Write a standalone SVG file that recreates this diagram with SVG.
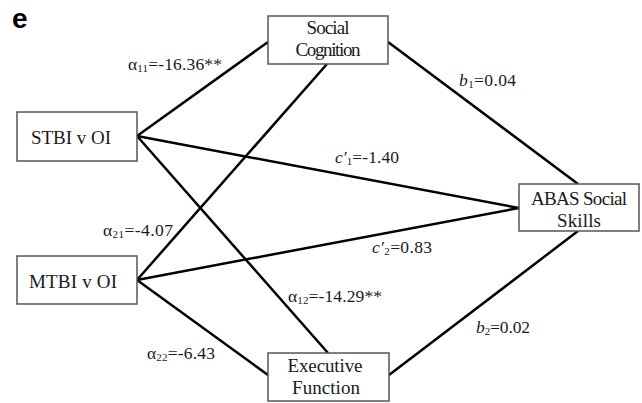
<svg xmlns="http://www.w3.org/2000/svg" width="642" height="403" viewBox="0 0 642 403">
<style>
.box{fill:#fff;stroke:#555;stroke-width:1.5}
.nt{font-family:"Liberation Serif",serif;font-size:19px;fill:#1a1a1a;text-anchor:middle}
.lb{font-family:"Liberation Serif",serif;font-size:17.5px;fill:#1a1a1a}
.sub{font-size:11px}
.edge{stroke:#000;stroke-width:2.5;fill:none}
</style>
<rect width="642" height="403" fill="#fff"/>
<text x="12" y="28" font-family="Liberation Sans, Arial, sans-serif" font-weight="bold" font-size="28" fill="#000">e</text>
<g id="connectors">
<line class="edge" x1="137" y1="136" x2="268" y2="42"/>
<line class="edge" x1="137" y1="136" x2="519" y2="208"/>
<line class="edge" x1="137" y1="136" x2="328" y2="353"/>
<line class="edge" x1="327" y1="64" x2="137" y2="280"/>
<line class="edge" x1="137" y1="280" x2="519" y2="208"/>
<line class="edge" x1="137" y1="280" x2="268" y2="375"/>
<line class="edge" x1="388" y1="42" x2="578" y2="184"/>
<line class="edge" x1="578" y1="231" x2="389" y2="375"/>
</g>
<g id="labels">
<text class="lb" x="128" y="70" textLength="94">α<tspan class="sub" dy="2">11</tspan><tspan dy="-2">=-16.36**</tspan></text>
<text class="lb" x="459" y="86" textLength="57"><tspan font-style="italic">b</tspan><tspan class="sub" dy="2">1</tspan><tspan dy="-2">=0.04</tspan></text>
<text class="lb" x="335" y="163" textLength="64"><tspan font-style="italic">c′</tspan><tspan class="sub" dy="2">1</tspan><tspan dy="-2">=-1.40</tspan></text>
<text class="lb" x="103" y="236" textLength="70">α<tspan class="sub" dy="2">21</tspan><tspan dy="-2">=-4.07</tspan></text>
<text class="lb" x="372" y="253" textLength="60"><tspan font-style="italic">c′</tspan><tspan class="sub" dy="2">2</tspan><tspan dy="-2">=0.83</tspan></text>
<text class="lb" x="288" y="302" textLength="94">α<tspan class="sub" dy="2">12</tspan><tspan dy="-2">=-14.29**</tspan></text>
<text class="lb" x="147" y="359" textLength="68">α<tspan class="sub" dy="2">22</tspan><tspan dy="-2">=-6.43</tspan></text>
<text class="lb" x="476" y="333" textLength="54"><tspan font-style="italic">b</tspan><tspan class="sub" dy="2">2</tspan><tspan dy="-2">=0.02</tspan></text>
</g>
<g id="social-cognition">
<rect class="box" x="268" y="16" width="120" height="48"/>
<text class="nt" x="328" y="34" textLength="43">Social</text>
<text class="nt" x="328" y="56" textLength="65">Cognition</text>
</g>
<g id="stbi">
<rect class="box" x="17" y="112" width="120" height="49"/>
<text class="nt" x="71" y="144" textLength="80">STBI v OI</text>
</g>
<g id="mtbi">
<rect class="box" x="17" y="256" width="120" height="48"/>
<text class="nt" x="73" y="288" textLength="88">MTBI v OI</text>
</g>
<g id="abas">
<rect class="box" x="519" y="184" width="120" height="47"/>
<text class="nt" x="579" y="205" textLength="96">ABAS Social</text>
<text class="nt" x="579" y="227" textLength="44">Skills</text>
</g>
<g id="executive-function">
<rect class="box" x="268" y="353" width="121" height="48"/>
<text class="nt" x="325" y="372" textLength="75">Executive</text>
<text class="nt" x="326" y="394" textLength="68">Function</text>
</g>
</svg>
